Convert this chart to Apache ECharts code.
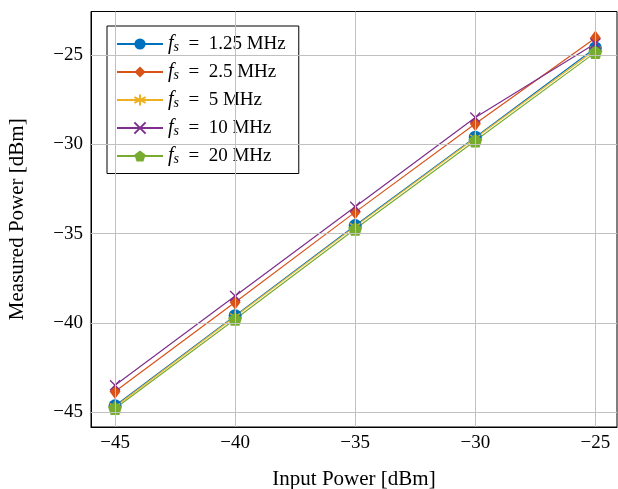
<!DOCTYPE html>
<html><head><meta charset="utf-8">
<script src="https://cdn.jsdelivr.net/npm/echarts@6/dist/echarts.min.js"></script>
<style>html,body{margin:0;padding:0;background:#fff;overflow:hidden}#c{width:618px;height:489px}</style>
</head><body><div id="c"></div>
<script>
const inputPower = [-45, -40, -35, -30, -25];
const seriesNames = ['1.25 MHz', '2.5 MHz', '5 MHz', '10 MHz', '20 MHz'];
const fs125 = [-44.65, -39.6, -34.55, -29.6, -24.6];
const fs25 = [-43.85, -38.85, -33.8, -28.85, -24.05];
const fs5 = [-44.7, -39.65, -34.6, -29.65, -24.7];
const fs10 = [-43.5, -38.5, -33.5, -28.5, -24.35];
const fs20 = [-44.8, -39.8, -34.75, -29.8, -24.85];
const xTicks = [-45, -40, -35, -30, -25];
const yTicks = [-45, -40, -35, -30, -25];

const colors = ['#0072BD', '#D95319', '#EDB120', '#7E2F8E', '#77AC30'];
const symbols = [
  'circle',
  'diamond',
  'path://M0,-1 L0,1 M-0.866,-0.5 L0.866,0.5 M-0.866,0.5 L0.866,-0.5',
  'path://M-1,-1 L1,1 M-1,1 L1,-1',
  'path://M0,-1 L0.951,-0.309 L0.588,0.809 L-0.588,0.809 L-0.951,-0.309 Z'
];
const sizes = [13, [11, 15], 12, 10, 14];
const allData = [fs125, fs25, fs5, fs10, fs20];
const font = 'Liberation Serif';
const minus = v => String(v).replace('-', '\u2212');

const series = allData.map((vals, i) => ({
  name: seriesNames[i],
  type: 'line',
  data: inputPower.map((x, j) => [x, vals[j]]),
  symbol: symbols[i],
  symbolSize: sizes[i],
  symbolKeepAspect: true,
  showAllSymbol: true,
  lineStyle: { color: colors[i], width: 1.2 },
  itemStyle: {
    color: colors[i],
    borderColor: colors[i],
    borderWidth: (i === 2 || i === 3) ? 1.3 : 0
  },
  emphasis: { disabled: true },
  animation: false
}));

const chart = echarts.init(document.getElementById('c'), null, { renderer: 'canvas' });
chart.setOption({
  backgroundColor: '#fff',
  animation: false,
  grid: {
    left: 91, right: 1, top: 11.5, bottom: 62,
    outerBoundsMode: 'none', containLabel: false,
    show: true, borderColor: '#000', borderWidth: 1, backgroundColor: 'transparent'
  },
  legend: {
    left: 107, top: 26, orient: 'vertical',
    data: seriesNames,
    itemWidth: 46, itemHeight: 14, itemGap: 7.5,
    backgroundColor: '#fff', borderColor: '#000', borderWidth: 1,
    padding: [8, 13, 7, 9],
    selectedMode: false,
    formatter: n => '{i|f}{s|s}{t|  =  ' + n + '}',
    textStyle: {
      fontFamily: font, fontSize: 19, color: '#000',
      rich: {
        i: { fontFamily: font, fontStyle: 'italic', fontSize: 20, color: '#000' },
        s: { fontFamily: font, fontStyle: 'italic', fontSize: 14, color: '#000', verticalAlign: 'bottom', padding: [7, 0, 0, 0] },
        t: { fontFamily: font, fontSize: 19, color: '#000' }
      }
    }
  },
  xAxis: {
    type: 'value', min: -46, max: -24.1, interval: 5,
    name: 'Input Power [dBm]', nameLocation: 'middle', nameGap: 42,
    nameTextStyle: { fontFamily: font, fontSize: 21, color: '#000' },
    axisLine: { show: true, lineStyle: { color: '#000' } },
    axisTick: { show: false },
    axisLabel: {
      fontFamily: font, fontSize: 19, color: '#000', margin: 7,
      customValues: xTicks, formatter: v => minus(v)
    },
    splitLine: { show: false }
  },
  yAxis: {
    type: 'value', min: -45.84, max: -22.56, interval: 5,
    name: 'Measured Power [dBm]', nameLocation: 'middle', nameGap: 63,
    nameTextStyle: { fontFamily: font, fontSize: 21, color: '#000' },
    axisLine: { show: true, lineStyle: { color: '#000' } },
    axisTick: { show: false },
    axisLabel: {
      fontFamily: font, fontSize: 19, color: '#000', margin: 8,
      customValues: yTicks, formatter: v => minus(v)
    },
    splitLine: { show: false }
  },
  series: series.concat([
    {
      type: 'line', silent: true, data: [],
      markLine: {
        silent: true, symbol: 'none', animation: false, label: { show: false },
        lineStyle: { color: '#c0c0c0', type: 'solid', width: 1 },
        data: xTicks.map(v => ({ xAxis: v })).concat(yTicks.map(v => ({ yAxis: v })))
      },
      z: 0
    }
  ])
});
</script></body></html>
